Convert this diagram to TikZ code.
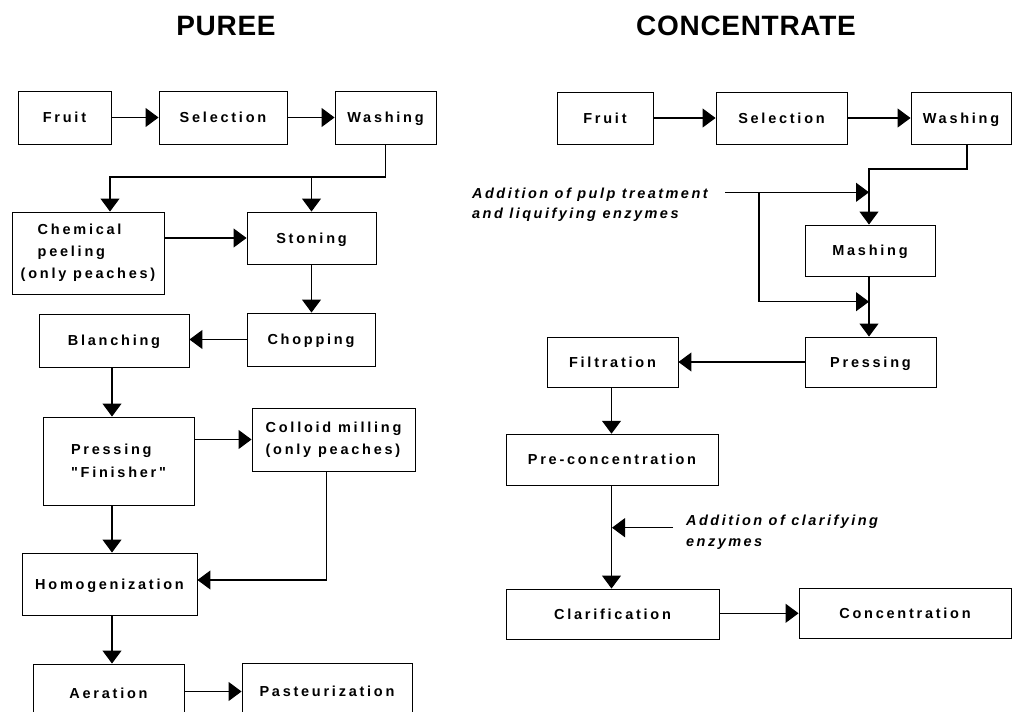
\documentclass[tikz,border=0pt]{standalone}
\usepackage{fontspec}
\setmainfont{Liberation Sans}
\newfontfamily\boxfont{Liberation Sans}[LetterSpace=19]
\newfontfamily\labfont{Liberation Sans}[LetterSpace=17]
\newfontfamily\titlefont{Liberation Sans}[LetterSpace=2.5]
\usetikzlibrary{arrows.meta}
\begin{document}
\begin{tikzpicture}[x=1pt,y=-1pt,
  box/.style={draw, line width=0.9pt, inner sep=0pt,
    font=\boxfont\bfseries\fontsize{14.5}{22}\selectfont},
  sbox/.style={box, text height=10.4pt, text depth=0pt},
  mbox/.style={box, align=left},
  arr/.style={line width=1.1pt, -{Triangle[length=13pt,width=19pt]}},
  lab/.style={font=\labfont\bfseries\itshape\fontsize{14.5}{20.5}\selectfont,
    align=left, inner sep=0pt, anchor=west},
  ttl/.style={font=\titlefont\bfseries\fontsize{28}{32}\selectfont,
    inner sep=0pt, anchor=base}]
\useasboundingbox (0,0) rectangle (1013,712);
\clip (0,0) rectangle (1013,712);

% titles
\node[ttl] (t1) at (226,35) {PUREE};
\node[ttl] (t2) at (746,35) {CONCENTRATE};

% ---------- PUREE ----------
\node[sbox, minimum width=93pt, minimum height=53pt] (f1) at (64.5,117.5) {Fruit};
\node[sbox, minimum width=128pt, minimum height=53pt] (s1) at (223,117.5) {Selection};
\node[sbox, minimum width=101pt, minimum height=53pt] (w1) at (385.5,117.5) {Washing};
\node[mbox, minimum width=152pt, minimum height=82pt] (cp) at (88,253)
  {\hspace*{17pt}Chemical\\\hspace*{17pt}peeling\\(only peaches)};
\node[sbox, minimum width=129pt, minimum height=52pt] (st) at (311.5,238) {Stoning};
\node[sbox, minimum width=128pt, minimum height=53pt] (ch) at (311,339.5) {Chopping};
\node[sbox, minimum width=150pt, minimum height=53pt] (bl) at (114,340.5) {Blanching};
\node[mbox, minimum width=151pt, minimum height=88pt] (pr) at (118.5,461)
  {Pressing\\[1pt]"Finisher"};
\node[mbox, minimum width=163pt, minimum height=63pt] (cm) at (333.5,439.5)
  {Colloid milling\\(only peaches)};
\node[sbox, minimum width=175pt, minimum height=62pt] (ho) at (109.5,584) {Homogenization};
\node[sbox, minimum width=151pt, minimum height=58pt] (ae) at (108.5,693) {Aeration};
\node[sbox, minimum width=170pt, minimum height=57pt] (pa) at (327,691.5) {Pasteurization};

\coordinate (jL) at (110,177);
\draw[arr] (f1) -- (s1);
\draw[arr] (s1) -- (w1);
\draw[arr] (w1.south) |- (jL) -- (jL |- cp.north);
\draw[arr] (jL -| st.north) -- (st.north);
\draw[arr] (cp.east |- st.west) -- (st.west);
\draw[arr] (st.south) -- (st.south |- ch.north);
\draw[arr] (ch.west) -- (ch.west -| bl.east);
\draw[arr] ([xshift=-2pt]bl.south) -- ([xshift=-2pt]bl.south |- pr.north);
\draw[arr] (cm.west -| pr.east) -- (cm.west);
\draw[arr] ([xshift=-2pt]bl.south |- pr.south) -- ([xshift=-2pt]bl.south |- ho.north);
\draw[arr] ([xshift=-7pt]cm.south) |- ([yshift=4pt]ho.east);
\draw[arr] ([xshift=-2pt]bl.south |- ho.south) -- ([xshift=-2pt]bl.south |- ae.north);
\draw[arr] (ae.east |- pa.west) -- (pa.west);

% ---------- CONCENTRATE ----------
\node[sbox, minimum width=96pt, minimum height=52pt] (f2) at (605,118) {Fruit};
\node[sbox, minimum width=131pt, minimum height=52pt] (s2) at (781.5,118) {Selection};
\node[sbox, minimum width=100pt, minimum height=52pt] (w2) at (961,118) {Washing};
\node[sbox, minimum width=130pt, minimum height=51pt] (ma) at (870,250.5) {Mashing};
\node[sbox, minimum width=131pt, minimum height=50pt] (pe) at (870.5,362) {Pressing};
\node[sbox, minimum width=131pt, minimum height=50pt] (fi) at (612.5,362) {Filtration};
\node[sbox, minimum width=212pt, minimum height=51pt] (pc) at (612,459.7) {Pre-concentration};
\node[sbox, minimum width=213pt, minimum height=50pt] (cl) at (612.5,614) {Clarification};
\node[sbox, minimum width=212pt, minimum height=50pt] (co) at (905,613.3) {Concentration};

\node[lab] (addA) at (472,204.6) {Addition of pulp treatment\\and liquifying enzymes};
\node[lab] (addB) at (686,532.2) {Addition of clarifying\\enzymes};

\coordinate (jR) at (869,169);
\coordinate (aS) at (725,192.3);
\coordinate (aB) at (759,192.3);
\coordinate (aC) at (759,301.7);
\coordinate (cS) at (673,527.7);

\draw[arr] (f2) -- (s2);
\draw[arr] (s2) -- (w2);
\draw[arr] ([xshift=6pt]w2.south) |- (jR) -- (jR |- ma.north);
\draw[arr] (aS) -- (aS -| jR);
\draw[arr] (aB) -- (aC) -- (aC -| jR);
\draw[arr] (jR |- ma.south) -- (jR |- pe.north);
\draw[arr] (pe.west) -- (pe.west -| fi.east);
\draw[arr] ([xshift=-1pt]fi.south) -- ([xshift=-1pt]fi.south |- pc.north);
\draw[arr] ([xshift=-1pt]fi.south |- pc.south) -- ([xshift=-1pt]fi.south |- cl.north);
\draw[arr] (cS) -- (cS -| pc.south);
\draw[arr] (cl.east |- co.west) -- (co.west);
\end{tikzpicture}
\end{document}
